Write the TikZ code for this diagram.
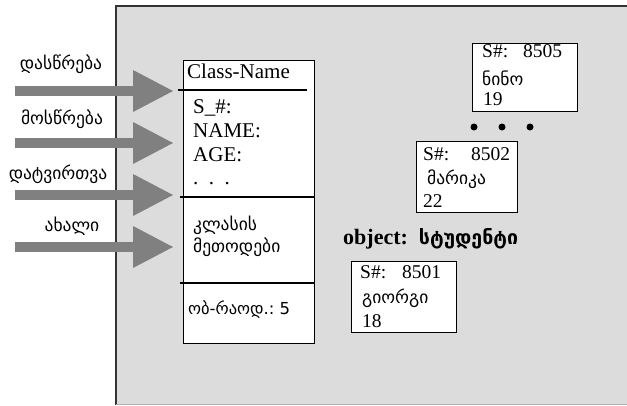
\documentclass[tikz,border=0pt]{standalone}
\usepackage{fontspec}
\setmainfont{Liberation Serif}
\newfontfamily\geo{DejaVu Sans}
\usepackage{tikz}
\usetikzlibrary{arrows.meta,calc,positioning}
\tikzset{
  txt/.style = {inner sep=0pt, anchor=base west, font=\fontsize{21}{24}\selectfont},
  obj_txt/.style = {inner sep=0pt, anchor=base west, font=\fontsize{19.5}{22}\selectfont},
  geo_txt/.style = {inner sep=0pt, anchor=base west, font=\geo\fontsize{17.5}{20}\selectfont},
  geo_lbl/.style = {inner sep=0pt, font=\geo\fontsize{17.5}{20}\selectfont},
  box/.style = {draw, fill=white, line width=1.2pt, inner sep=0pt, anchor=north west}
}
\definecolor{panel_gray}{RGB}{220, 220, 220}
\definecolor{arrow_gray}{RGB}{128, 128, 128}

\begin{document}
\begin{tikzpicture}[x=1pt,y=-1pt,
        in_arrow/.style={draw=arrow_gray, line width=10pt,
          -{Triangle[length=40pt,width=42pt,line width=0pt]}, shorten >=10pt}]
    \useasboundingbox (0,0) rectangle (627,405);
    % panel behind the class and its objects
    \fill[panel_gray] (116,6) rectangle (627,404);
    \draw[line width=2pt, black!80] (116,405) -- (116,6) -- (627,6);
    \draw[black!30] (116,404) -- (627,404);

    % class
    \node[box, minimum width=131pt, minimum height=283pt] (cls) at (183,60) {};
    \draw[line width=1.2pt] (178,90) -- (307,90);
    \draw[line width=1.2pt] (180,197) -- (314,197);
    \draw[line width=1.2pt] (180,283) -- (314,283);
    \node[txt] (cls_name) at (187,78) {Class-Name};
    \node[txt] (attr_s) at (193,113) {S\_\#:};
    \node[txt] (attr_n) at (193,137) {NAME:};
    \node[txt] (attr_a) at (193,161) {AGE:};
    \node[txt] (attr_d) at (193,184) {.\ \ .\ \ .};
    \node[geo_txt] (meth_a) at (193,230) {კლასის};
    \node[geo_txt] (meth_b) at (193,252) {მეთოდები};
    \node[geo_txt, font=\geo\fontsize{16.5}{20}\selectfont] (obj_cnt) at (188,314) {ობ-რაოდ.:\ 5};

    % operations coming in
    \node[geo_lbl] (op_1) at (61,64) {დასწრება};
    \node[geo_lbl] (op_2) at (62,119) {მოსწრება};
    \node[geo_lbl] (op_3) at (58,174) {დატვირთვა};
    \node[geo_lbl] (op_4) at (72,226) {ახალი};
    \coordinate (src_1) at (15,91);
    \coordinate (src_2) at (15,143);
    \coordinate (src_3) at (15,195);
    \coordinate (src_4) at (15,247);
    \draw[in_arrow] (src_1) -- (src_1 -| cls.west);
    \draw[in_arrow] (src_2) -- (src_2 -| cls.west);
    \draw[in_arrow] (src_3) -- (src_3 -| cls.west);
    \draw[in_arrow] (src_4) -- (src_4 -| cls.west);

    % objects
    \node[box, minimum width=105pt, minimum height=68pt] (obj_c) at (472,43) {};
    \node[obj_txt] (obj_c_id) at (482,57) {S\#:};
    \node[obj_txt] (obj_c_no) at (523,57) {8505};
    \node[geo_txt] (obj_c_nm) at (482,85) {ნინო};
    \node[obj_txt] (obj_c_age) at (483,105) {19};

    \fill (474,127) circle (3.5pt);
    \fill (502,127) circle (3.5pt);
    \fill (530,127) circle (3.5pt);

    \node[box, minimum width=101pt, minimum height=71pt] (obj_b) at (416,141) {};
    \node[obj_txt] (obj_b_id) at (423,160) {S\#:};
    \node[obj_txt] (obj_b_no) at (471,160) {8502};
    \node[geo_txt] (obj_b_nm) at (427,184) {მარიკა};
    \node[obj_txt] (obj_b_age) at (423,207) {22};

    \node[txt, font=\fontsize{22}{24}\selectfont\bfseries] (obj_lbl) at (343,244)
        {object:\ \ {\geo\fontsize{19.5}{22}\selectfont\bfseries სტუდენტი}};

    \node[box, minimum width=105pt, minimum height=71pt] (obj_a) at (351,261) {};
    \node[obj_txt] (obj_a_id) at (360,278) {S\#:};
    \node[obj_txt] (obj_a_no) at (402,278) {8501};
    \node[geo_txt] (obj_a_nm) at (362,303) {გიორგი};
    \node[obj_txt] (obj_a_age) at (362,327) {18};
\end{tikzpicture}
\end{document}
